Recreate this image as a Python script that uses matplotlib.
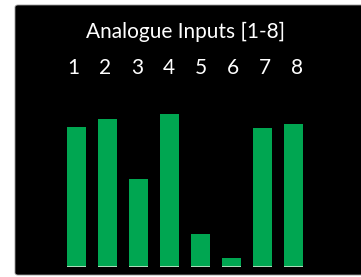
import numpy as np
import matplotlib
matplotlib.use('Agg')
from matplotlib import pyplot as plt
from matplotlib.patches import FancyBboxPatch
import matplotlib.transforms as mtransforms

channels = [1, 2, 3, 4, 5, 6, 7, 8]
channel_labels = ['1', '2', '3', '4', '5', '6', '7', '8']
levels = [87.5, 92.5, 55, 95.6, 20.6, 5.6, 86.9, 89.4]
title = 'Analogue Inputs [1-8]'

W, H = 361, 277
fig = plt.figure(figsize=(W / 100, H / 100), dpi=100)
fig.patch.set_facecolor('white')

# black panel behind everything
panel = FancyBboxPatch((15 / W, 2 / H), 360 / W, 270 / H,
                       boxstyle='round,pad=0,rounding_size=0.008',
                       transform=fig.transFigure, facecolor='black',
                       edgecolor='#9a9a9a', linewidth=0.6, zorder=-10)
fig.patches.append(panel)

# axes: x unit = 31 px, bar 1 centred at 76.5 px; y 0..100 over 160 px, base at 267 px
ax = fig.add_axes([15 / W, (H - 267) / H, 346 / W, 160 / H])
ax.set_facecolor('none')
ax.set_xlim(1 - 61.5 / 31, 1 + 284.5 / 31)
ax.set_ylim(0, 100)
ax.bar(channels, levels, width=19 / 31, color='#00a651')
ax.bar(channels, 0.9, width=19 / 31, color='#a8dcb8')
ax.axis('off')

trans = mtransforms.blended_transform_factory(ax.transData, fig.transFigure)
for c, lab in zip(channels, channel_labels):
    ax.text(c - 0.1 + (c - 1) * 0.03, 1 - 68 / H, lab, transform=trans, color='white',
            fontsize=15, family='Lato', ha='center', va='center', clip_on=False)
fig.text(186 / W, 1 - 32 / H, title, color='white', fontsize=15,
         family='Lato', ha='center', va='center')

fig.savefig('out.png', dpi=100, facecolor=fig.get_facecolor())
